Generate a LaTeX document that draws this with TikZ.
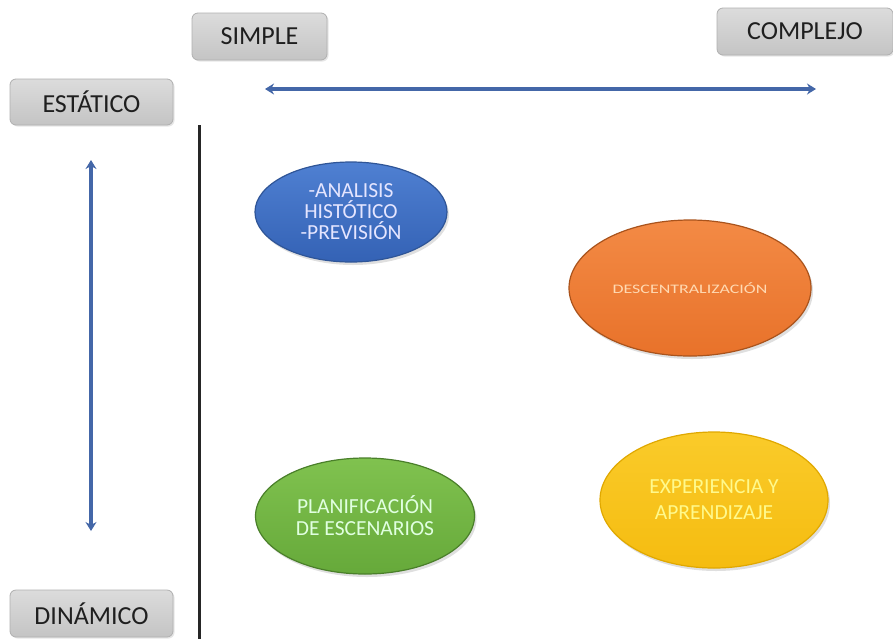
\documentclass[tikz,border=0pt]{standalone}
\usepackage{fontspec}
\setmainfont{Carlito}
\usetikzlibrary{shapes.geometric,arrows.meta,shadows}
\definecolor{boxgray}{HTML}{D0D0D0}
\definecolor{boxtop}{HTML}{DCDCDC}
\definecolor{boxbot}{HTML}{C4C4C4}
\definecolor{boxedge}{HTML}{B0B0B0}
\definecolor{arrowblue}{HTML}{4467A8}
\definecolor{ellblueT}{HTML}{4F80D2}
\definecolor{ellblueB}{HTML}{3462B5}
\definecolor{ellblueE}{HTML}{2F5597}
\definecolor{ellorangeT}{HTML}{F38A45}
\definecolor{ellorangeB}{HTML}{E8722A}
\definecolor{ellorangeE}{HTML}{A9531C}
\definecolor{ellgreenT}{HTML}{80C24F}
\definecolor{ellgreenB}{HTML}{66A93A}
\definecolor{ellgreenE}{HTML}{4A7F2A}
\definecolor{ellyellowT}{HTML}{FACB2A}
\definecolor{ellyellowB}{HTML}{F5BC10}
\definecolor{ellyellowE}{HTML}{E0A800}
\tikzset{
  lblbox/.style={draw=boxedge, top color=boxtop, bottom color=boxbot, rounded corners=6pt, line width=0.8pt,
    minimum height=46pt, inner sep=0pt, font=\fontsize{26}{28}\selectfont, text=black!88,
    drop shadow={shadow xshift=1.5pt, shadow yshift=-1.5pt, opacity=0.2}},
  oval/.style={ellipse, line width=1.2pt, inner sep=0pt, align=center,
    drop shadow={shadow xshift=2pt, shadow yshift=-3pt, opacity=0.25}},
  axisarrow/.style={draw=arrowblue, line width=4pt, {Stealth[length=9pt,width=11pt]}-{Stealth[length=9pt,width=11pt]}},
}
\begin{document}
\begin{tikzpicture}[x=1pt,y=-1pt]
\useasboundingbox (0,0) rectangle (893,638);
\node[lblbox, minimum width=135pt, minimum height=47pt] (simple) at (259.5,36.5) {SIMPLE};
\node[lblbox, minimum width=176pt, minimum height=47pt] (complejo) at (805,31.5) {COMPLEJO};
\node[lblbox, minimum width=163pt] (estatico) at (91.5,102) {ESTÁTICO};
\node[lblbox, minimum width=163pt, minimum height=47pt] (dinamico) at (91.5,613.5) {DINÁMICO};

\coordinate (hL) at (265,89);
\coordinate (hR) at (816,89);
\draw[axisarrow] (hL) -- (hR);
\coordinate (vT) at (91,160);
\coordinate (vB) at (91,531);
\draw[axisarrow] (vT) -- (vB);
\coordinate (lT) at (199,125);
\coordinate (lB) at (199,640);
\draw[line width=3pt, black!85] (lT) -- (lB);

\node[oval, top color=ellblueT, bottom color=ellblueB, draw=ellblueE, minimum width=192pt, minimum height=100pt,
  text=white!90!blue, font=\fontsize{21.5}{21}\selectfont] (analisis) at (351,212)
  {-ANALISIS\\HISTÓTICO\\-PREVISIÓN};
\node[oval, top color=ellorangeT, bottom color=ellorangeB, draw=ellorangeE, minimum width=242pt, minimum height=136pt,
  text=orange!30!white, font=\fontsize{13}{15}\selectfont] (descentral) at (690,288)
  {\scalebox{1.38}[1]{DESCENTRALIZACIÓN}};
\node[oval, top color=ellgreenT, bottom color=ellgreenB, draw=ellgreenE, minimum width=219pt, minimum height=116pt,
  text=green!12!white, font=\fontsize{21.5}{22}\selectfont] (planif) at (365,516)
  {PLANIFICACIÓN\\DE ESCENARIOS};
\node[oval, top color=ellyellowT, bottom color=ellyellowB, draw=ellyellowE, minimum width=228pt, minimum height=136pt,
  text=yellow!45!white, font=\fontsize{21.5}{26}\selectfont] (experiencia) at (714,500)
  {EXPERIENCIA Y\\APRENDIZAJE};
\end{tikzpicture}
\end{document}
